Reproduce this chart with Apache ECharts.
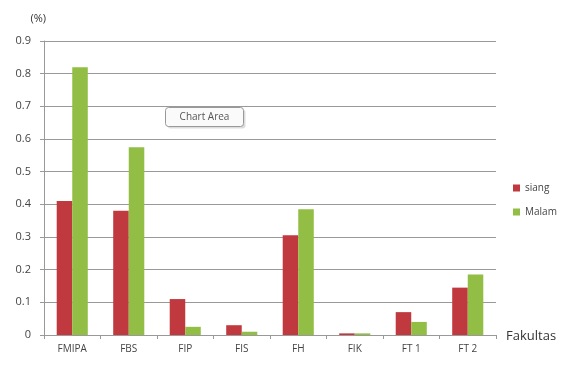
<!DOCTYPE html>
<html><head><meta charset="utf-8">
<script src="https://cdn.jsdelivr.net/npm/echarts@6/dist/echarts.min.js"></script>
<style>html,body{margin:0;padding:0;background:#fff}#c{width:572px;height:365px}</style>
</head><body><div id="c"></div>
<script>
var categories = ['FMIPA','FBS','FIP','FIS','FH','FIK','FT 1','FT 2'];
var siang = [0.41, 0.38, 0.11, 0.03, 0.305, 0.005, 0.07, 0.145];
var malam = [0.82, 0.575, 0.025, 0.01, 0.385, 0.005, 0.04, 0.185];
var yTicks = [0, 0.1, 0.2, 0.3, 0.4, 0.5, 0.6, 0.7, 0.8, 0.9];

var font = 'Open Sans';
var chart = echarts.init(document.getElementById('c'));
chart.setOption({
  animation: false,
  textStyle: {fontFamily: font},
  grid: {left: 44, right: 76, top: 41, bottom: 30, containLabel: false},
  legend: {
    orient: 'vertical', left: 508, top: 178, itemWidth: 7, itemHeight: 7, itemGap: 14,
    icon: 'rect', textStyle: {fontSize: 10, color: '#444', fontFamily: font},
    data: ['siang','Malam']
  },
  xAxis: {
    type: 'category', data: categories,
    name: 'Fakultas', nameLocation: 'end', nameGap: 10,
    nameTextStyle: {fontSize: 13, color: '#333', verticalAlign: 'top', padding: [-5,0,0,0]},
    axisLine: {lineStyle: {color: '#999'}},
    axisTick: {show: true, length: 4, lineStyle: {color: '#999'}},
    axisLabel: {fontSize: 10, color: '#444', margin: 9}
  },
  yAxis: {
    type: 'value', min: yTicks[0], max: yTicks[yTicks.length-1], interval: 0.1,
    name: '(%)', nameGap: 17, nameTextStyle: {fontSize: 11, color: '#333', align: 'right', padding:[0,-2,0,0]},
    axisLine: {show: true, lineStyle: {color: '#999'}},
    axisTick: {show: true, length: 4, lineStyle: {color: '#999'}},
    splitLine: {lineStyle: {color: '#999', width: 1}},
    axisLabel: {fontSize: 11, color: '#444', margin: 13, formatter: function(v){return v===0?'0':v.toFixed(1);}}
  },
  series: [
    {name: 'siang', type: 'bar', data: siang, barGap: '0%', barCategoryGap: '45%', itemStyle: {color: '#c0393e'}},
    {name: 'Malam', type: 'bar', data: malam, itemStyle: {color: '#92be45'}}
  ],
  graphic: [{
    type: 'group', left: 165, top: 107,
    children: [
      {type: 'rect', shape: {x: 2, y: 2, width: 78, height: 19, r: 3}, style: {fill: '#ddd'}},
      {type: 'rect', shape: {x: 0, y: 0, width: 78, height: 19, r: 3}, style: {fill: '#fafafa', stroke: '#999', lineWidth: 1}},
      {type: 'text', style: {x: 39, y: 10, text: 'Chart Area', align: 'center', verticalAlign: 'middle', fontSize: 10, fill: '#555', fontFamily: font}}
    ]
  }]
});
</script></body></html>
